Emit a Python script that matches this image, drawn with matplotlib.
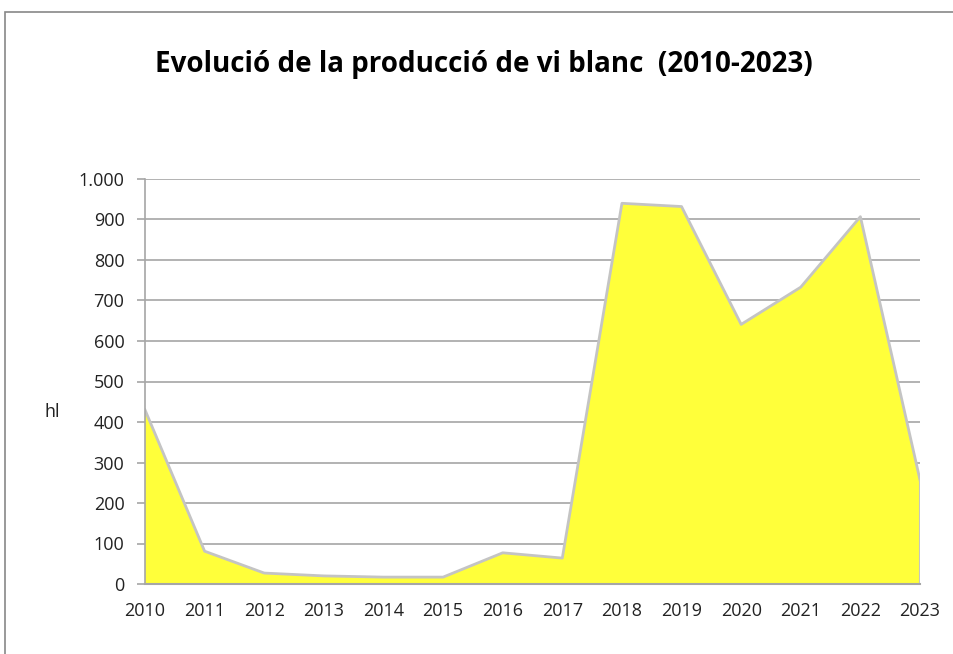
import matplotlib
matplotlib.use("Agg")
import matplotlib.pyplot as plt
from matplotlib.patches import Rectangle
from matplotlib.ticker import FuncFormatter

years = [2010, 2011, 2012, 2013, 2014, 2015, 2016, 2017, 2018, 2019, 2020, 2021, 2022, 2023]
production_hl = [430, 81, 27, 20, 17, 17, 77, 64, 940, 932, 641, 733, 907, 257]
yticks = [0, 100, 200, 300, 400, 500, 600, 700, 800, 900, 1000]
title = "Evolució de la producció de vi blanc  (2010-2023)"
ylabel = "hl"

plt.rcParams['font.family'] = ['Open Sans', 'DejaVu Sans']

W, H = 954, 654
fig = plt.figure(figsize=(W / 100, H / 100), dpi=100)
fig.patch.set_facecolor('white')

# outer frame
fig.add_artist(Rectangle((5 / W, -0.1), 1.2, 1 - 12 / H + 0.1, transform=fig.transFigure,
                         fill=False, edgecolor='#888888', linewidth=1.2))

left, right = 145 / W, 920 / W
bottom, top = 1 - 584 / H, 1 - 179 / H
ax = fig.add_axes([left, bottom, right - left, top - bottom])

grid_c = '#a6a6a6'
ax.fill_between(years, production_hl, 0, facecolor='#ffff3a', edgecolor='none', zorder=2)
ax.plot(years, production_hl, color='#c4c4c4', linewidth=2, zorder=3)
ax.plot([years[-1], years[-1]], [0, production_hl[-1]], color='#c4c4c4', linewidth=1.5, zorder=3)

ax.set_xlim(years[0], years[-1])
ax.set_ylim(0, 1000)
ax.set_xticks(years)
ax.set_yticks(yticks)
ax.yaxis.set_major_formatter(FuncFormatter(lambda v, p: f"{int(v):,}".replace(",", ".")))

ax.yaxis.grid(True, color=grid_c, linewidth=1.2, zorder=1)
ax.set_axisbelow(True)

for s in ['top', 'right']:
    ax.spines[s].set_visible(False)
ax.spines['left'].set_color(grid_c)
ax.spines['bottom'].set_color(grid_c)
ax.spines['left'].set_linewidth(1.2)
ax.spines['bottom'].set_linewidth(1.5)
ax.spines['left'].set_zorder(4)
ax.spines['bottom'].set_zorder(4)

ax.tick_params(axis='y', direction='out', length=5.8, width=1.2, color=grid_c,
               pad=9, labelsize=13, labelcolor='#222222')
ax.tick_params(axis='x', length=0, pad=13, labelsize=13, labelcolor='#222222')

fig.text(45 / W, 1 - 412 / H, ylabel, fontsize=13, color='#222222', va='center', ha='left')
fig.text(484 / W, 1 - 72 / H, title, fontsize=20, fontweight='bold', ha='center',
         va='baseline', color='black')

fig.savefig('out.png', dpi=100, facecolor='white')
